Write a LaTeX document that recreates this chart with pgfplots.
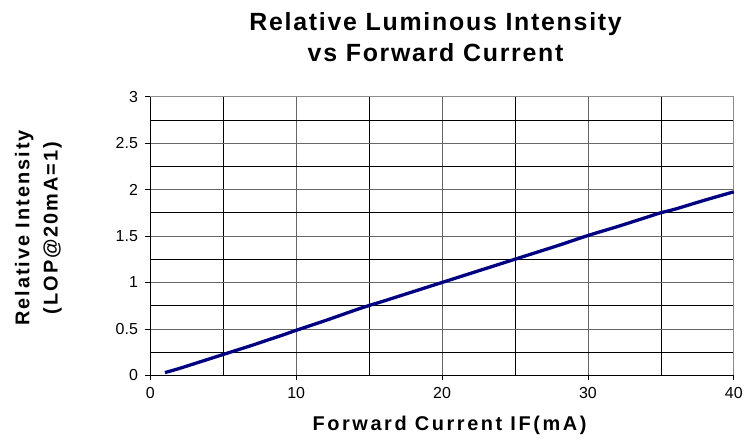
\documentclass[border=0pt]{standalone}
\usepackage{pgfplots}
\pgfplotsset{compat=1.18}
\usepackage{fontspec}
\setmainfont{Liberation Sans}
\newfontfamily\titlefont[LetterSpace=7]{Liberation Sans}
\newfontfamily\ylabfont[LetterSpace=10]{Liberation Sans}
\newfontfamily\xlabfont[LetterSpace=13]{Liberation Sans}
\begin{document}
\begin{tikzpicture}[x=1pt,y=1pt]
\path (-151,-64) rectangle (595,377);
\begin{axis}[
  at={(0,0)}, anchor=south west,
  scale only axis, width=586pt, height=280pt,
  xmin=0, xmax=40, ymin=0, ymax=3,
  xtick={0,10,20,30,40},
  minor xtick={5,15,25,35},
  ytick={0,0.5,1,1.5,2,2.5,3},
  minor ytick={0.25,0.75,1.25,1.75,2.25,2.75},
  grid=both,
  major grid style={draw=black!60, line width=0.8pt},
  minor grid style={draw=black, line width=0.6pt},
  axis line style={draw=black!45, line width=0.9pt},
  tick align=outside,
  major tick length=5pt,
  minor tick length=0pt,
  tick style={black, line width=0.8pt},
  xtick pos=bottom, ytick pos=left,
  /pgf/number format/assume math mode=true,
  ticklabel style={font=\fontsize{16}{18}\selectfont},
  xticklabel style={yshift=-4pt},
  yticklabel style={xshift=-4pt},
  clip=false,
]
\addplot[color={rgb,255:red,0;green,0;blue,128}, line width=3.3pt, smooth] coordinates {
(1,0.03) (2,0.075) (3,0.125) (4,0.175) (5,0.225) (6,0.275) (7,0.325) (8,0.378) (9,0.43) (10,0.485)
(12,0.59) (14,0.70) (15,0.752) (16,0.80) (18,0.90) (20,1.0) (22,1.10) (24,1.20) (25,1.25)
(26,1.30) (28,1.40) (30,1.505) (32,1.60) (34,1.70) (35,1.75) (36,1.79) (38,1.885) (40,1.975)
};
\draw[black, line width=0.9pt] (rel axis cs:0,0) -- (rel axis cs:0,1);
\draw[black, line width=0.9pt] (rel axis cs:0,0) -- (rel axis cs:1,0);
\end{axis}
\node[font=\titlefont\bfseries\fontsize{25}{28}\selectfont, anchor=base] at (286.5,346) {Relative Luminous Intensity};
\node[font=\titlefont\bfseries\fontsize{25}{28}\selectfont, anchor=base] at (286.5,315) {vs Forward Current};
\node[font=\ylabfont\bfseries\fontsize{20}{22}\selectfont, rotate=90, anchor=base] at (-121.5,148) {Relative Intensity};
\node[font=\ylabfont\bfseries\fontsize{20}{22}\selectfont, rotate=90, anchor=base] at (-93,148) {(LOP@20mA=1)};
\node[font=\xlabfont\bfseries\fontsize{20}{22}\selectfont, anchor=base] at (300.5,-55.3) {Forward Current IF(mA)};
\end{tikzpicture}
\end{document}
